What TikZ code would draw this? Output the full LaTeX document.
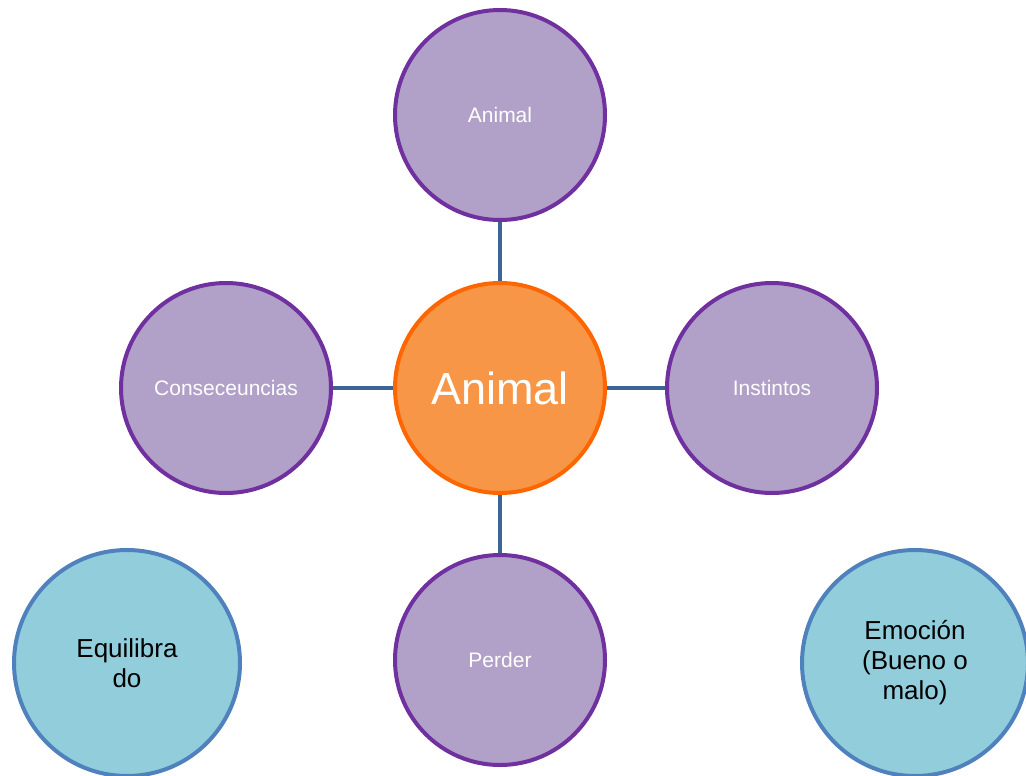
\documentclass[tikz,border=0pt]{standalone}
\usepackage{fontspec}
\setmainfont{Liberation Sans}
\definecolor{purfill}{HTML}{B1A0C7}
\definecolor{purline}{HTML}{7030A0}
\definecolor{orfill}{HTML}{F79646}
\definecolor{orline}{HTML}{FF6600}
\definecolor{blfill}{HTML}{92CDDC}
\definecolor{blline}{HTML}{4F81BD}
\definecolor{conn}{HTML}{3C6494}
\tikzset{
  sat/.style={circle, draw=purline, fill=purfill, line width=4pt, minimum size=210pt, inner sep=0pt, text=white, font=\fontsize{21}{25}\selectfont},
  hub/.style={circle, draw=orline, fill=orfill, line width=4pt, minimum size=210pt, inner sep=0pt, text=white, font=\fontsize{45}{50}\selectfont},
  side/.style={circle, draw=blline, fill=blfill, line width=4pt, minimum size=226pt, inner sep=0pt, text=black, align=center, font=\fontsize{26}{30}\selectfont},
  link/.style={draw=conn, line width=4.5pt}
}
\begin{document}
\begin{tikzpicture}[x=1pt,y=-1pt]
\useasboundingbox (0,0) rectangle (1026,776);
\node[hub] (c) at (500,388) {Animal};
\node[sat] (t) at (500,115) {Animal};
\node[sat] (l) at (226,388) {Conseceuncias};
\node[sat] (r) at (772,388) {Instintos};
\node[sat] (b) at (500,660) {Perder};
\node[side] (bl) at (127,663) {Equilibra\\do};
\node[side] (br) at (915,663) {Emoción\\(Bueno o\\malo)};
\draw[link] (c) -- (t);
\draw[link] (c) -- (l);
\draw[link] (c) -- (r);
\draw[link] (c) -- (b);
\end{tikzpicture}
\end{document}
